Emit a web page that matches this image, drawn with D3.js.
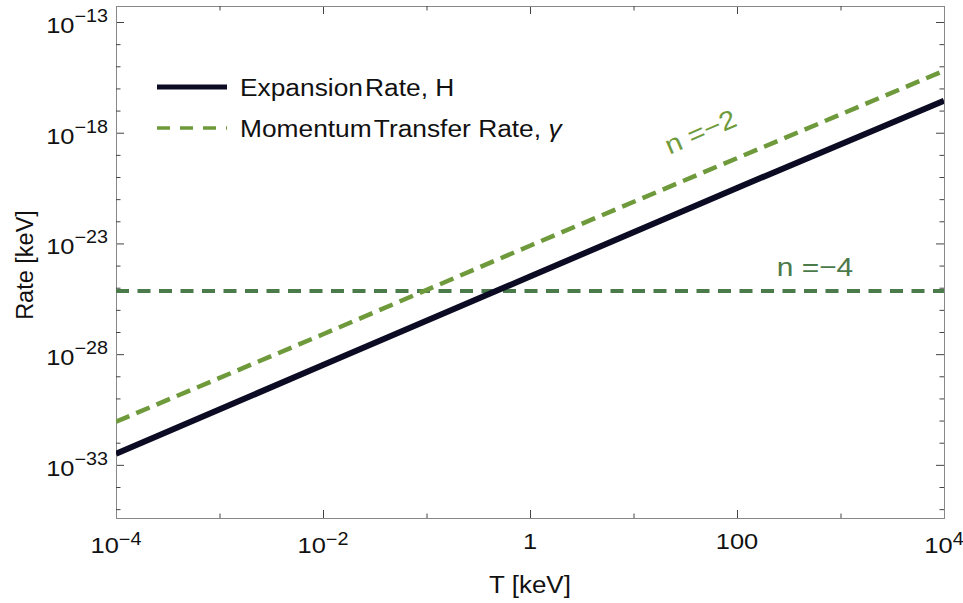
<!DOCTYPE html>
<html>
<head>
<meta charset="utf-8">
<script src="https://cdn.jsdelivr.net/npm/d3@7"></script>
<style>
  body { margin: 0; background: #fff; }
  svg { display: block; font-family: "Liberation Sans", Arial, sans-serif; }
</style>
</head>
<body>
<div id="chart"></div>
<script>
// temperatures [keV] and rates [keV]
var temps = [1e-4, 1e-2, 1, 1e2, 1e4];
var hubbleRate = [3.2e-33, 3.2e-29, 3.2e-25, 3.2e-21, 2.8e-17];
var gammaN2 = [8.9e-32, 7.9e-28, 7.9e-24, 7.1e-20, 6.3e-16];
var gammaN4 = [7.2e-26, 7.2e-26, 7.2e-26, 7.2e-26, 7.2e-26];

var xMajor = [1e-4, 1e-2, 1, 1e2, 1e4];
var xLabels = [["10", "−4"], ["10", "−2"], ["1", ""], ["100", ""], ["10", "4"]];
var xMinor = [1e-3, 1e-1, 1e1, 1e3];
var yMajor = [1e-13, 1e-18, 1e-23, 1e-28, 1e-33];
var yLabels = [["10", "−13"], ["10", "−18"], ["10", "−23"], ["10", "−28"], ["10", "−33"]];
var yMinor = [1e-14, 1e-15, 1e-16, 1e-17, 1e-19, 1e-20, 1e-21, 1e-22,
              1e-24, 1e-25, 1e-26, 1e-27, 1e-29, 1e-30, 1e-31, 1e-32, 1e-34, 1e-35];

// legend words; the reference sets some words close together
var legendWords = [["Expansion", "Rate, H"], ["Momentum", "Transfer Rate, "]];

var W = 963, Ht = 603,
	pLeft = 116, pRight = 944, pTop = 6, pBottom = 518,
	sx = 1.13; // the reference text is a bit wide

var svg = d3.select('#chart').append('svg')
	.attr('width', W).attr('height', Ht);

var x = d3.scaleLog().domain([1e-4, 1e4]).range([pLeft, pRight]);
var y = d3.scaleLog().domain([Math.pow(10, -35.4), Math.pow(10, -12.277)]).range([pBottom, pTop]);

svg.append('clipPath').attr('id', 'clip')
	.append('rect').attr('x', pLeft).attr('y', pTop)
	.attr('width', pRight - pLeft).attr('height', pBottom - pTop);

// axes: frame with inward ticks on all sides
function frameAxis(axisFn, scale, vals, size, pos) {
	var g = svg.append('g')
		.attr('transform', pos)
		.call(axisFn(scale).tickValues(vals).tickSize(size).tickFormat(''));
	g.selectAll('.domain').attr('stroke', '#888');
	g.selectAll('.tick line').attr('stroke', '#444');
	return g;
}
frameAxis(d3.axisBottom, x, xMajor, -8, 'translate(0,' + pBottom + ')');
frameAxis(d3.axisBottom, x, xMinor, -4.5, 'translate(0,' + pBottom + ')');
frameAxis(d3.axisTop, x, xMajor, -8, 'translate(0,' + pTop + ')');
frameAxis(d3.axisTop, x, xMinor, -4.5, 'translate(0,' + pTop + ')');
frameAxis(d3.axisLeft, y, yMajor, -8, 'translate(' + pLeft + ',0)');
frameAxis(d3.axisLeft, y, yMinor, -4.5, 'translate(' + pLeft + ',0)');
frameAxis(d3.axisRight, y, yMajor, -8, 'translate(' + pRight + ',0)');
frameAxis(d3.axisRight, y, yMinor, -4.5, 'translate(' + pRight + ',0)');

function powLabel(px, py, anchor, lab, size, supSize, rise) {
	var g = svg.append('g')
		.attr('transform', 'translate(' + px + ',' + py + ') scale(' + sx + ',1)');
	var t = g.append('text')
		.attr('text-anchor', anchor)
		.attr('font-size', size)
		.attr('fill', '#111');
	t.append('tspan').text(lab[0]);
	if (lab[1]) t.append('tspan').attr('font-size', supSize).attr('dy', -rise).text(lab[1]);
}
xMajor.forEach(function(v, i) {
	var hasSup = xLabels[i][1] !== '';
	powLabel(x(v), hasSup ? 553 : 549, 'middle', xLabels[i], 22.5, 17.5, 8);
});
yMajor.forEach(function(v, i) {
	powLabel(pLeft - 8, y(v) + 11, 'end', yLabels[i], 22.5, 17.5, 11);
});

// axis titles
svg.append('g').attr('transform', 'translate(530,593) scale(' + sx + ',1)')
	.append('text').attr('text-anchor', 'middle').attr('font-size', 23)
	.attr('fill', '#111').text('T [keV]');
svg.append('g').attr('transform', 'translate(33,265) rotate(-90)')
	.append('text').attr('text-anchor', 'middle').attr('font-size', 23.5)
	.attr('fill', '#111').text('Rate [keV]');

// curves
var line = d3.line()
	.x(function(d) { return x(d[0]); })
	.y(function(d) { return y(d[1]); });
var plot = svg.append('g').attr('clip-path', 'url(#clip)');

plot.append('path')
	.datum(d3.zip(temps, gammaN4))
	.attr('d', line).attr('fill', 'none')
	.attr('stroke', '#4b7a4b').attr('stroke-width', 4)
	.attr('stroke-dasharray', '13,8.5');
plot.append('path')
	.datum(d3.zip(temps, hubbleRate))
	.attr('d', line).attr('fill', 'none')
	.attr('stroke', '#0b0b24').attr('stroke-width', 6);
plot.append('path')
	.datum(d3.zip(temps, gammaN2))
	.attr('d', line).attr('fill', 'none')
	.attr('stroke', '#6e9a3c').attr('stroke-width', 4.5)
	.attr('stroke-dasharray', '14.5,7.5');

// line labels
var ang = -Math.atan((y(1e-24) - y(1e-22)) / (x(10) - x(1))) * 180 / Math.PI;
svg.append('g').attr('transform', 'translate(704,140) rotate(' + ang + ') scale(' + sx + ',1)')
	.append('text').attr('text-anchor', 'middle').attr('font-size', 26)
	.attr('fill', '#6e9a3c').text('n =−2');
svg.append('g').attr('transform', 'translate(815,276) scale(1.15,1)')
	.append('text').attr('text-anchor', 'middle').attr('font-size', 26)
	.attr('fill', '#4b7a4b').text('n =−4');

// legend
var leg = svg.append('g');
leg.append('line').attr('x1', 157).attr('x2', 227).attr('y1', 87).attr('y2', 87)
	.attr('stroke', '#0b0b24').attr('stroke-width', 5);
leg.append('line').attr('x1', 157).attr('x2', 227).attr('y1', 128).attr('y2', 128)
	.attr('stroke', '#6e9a3c').attr('stroke-width', 3.5).attr('stroke-dasharray', '13,10');
var t1 = leg.append('g').attr('transform', 'translate(240,96) scale(1.075,1)')
	.append('text').attr('font-size', 24.5).attr('fill', '#111');
t1.append('tspan').text(legendWords[0][0]);
t1.append('tspan').attr('dx', 2).text(legendWords[0][1]);
var t2 = leg.append('g').attr('transform', 'translate(240,137) scale(1.075,1)')
	.append('text').attr('font-size', 24.5).attr('fill', '#111');
t2.append('tspan').text(legendWords[1][0]);
t2.append('tspan').attr('dx', 2).text(legendWords[1][1]);
t2.append('tspan').attr('font-style', 'italic').text('γ');
</script>
</body>
</html>
